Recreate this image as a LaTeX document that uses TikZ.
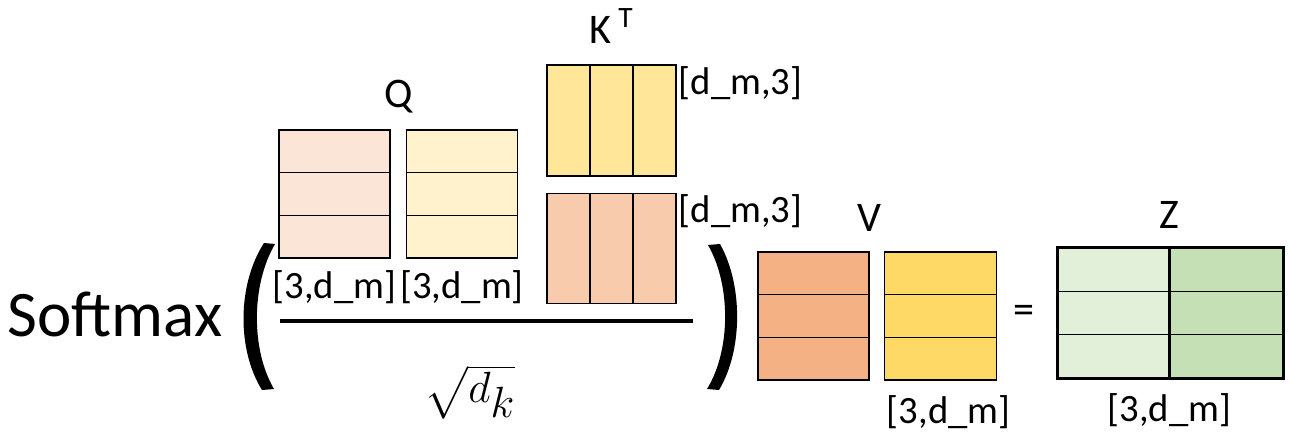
\documentclass[tikz,border=0pt]{standalone}
\usepackage{amsmath}
\usepackage{fontspec}
\setmainfont{Carlito}
\usetikzlibrary{positioning, calc}
\definecolor{qpeach}{HTML}{FBE5D6}
\definecolor{qyellow}{HTML}{FFF2CC}
\definecolor{ktyellow}{HTML}{FFE699}
\definecolor{ktpeach}{HTML}{F8CBAD}
\definecolor{vorange}{HTML}{F4B183}
\definecolor{vyellow}{HTML}{FFD966}
\definecolor{zlight}{HTML}{E2F0D9}
\definecolor{zgreen}{HTML}{C5E0B4}

\begin{document}
\begin{tikzpicture}[
		x=0.02cm, y=-0.02cm,
		node distance=0.3cm and 0.3cm,
		mat/.style={rectangle, draw, line width=0.9pt, inner sep=0pt,
			minimum width=2.22cm, minimum height=2.56cm},
		rows/.style={path picture={
				\foreach \f in {1,2}
				\draw[line width=0.9pt]
				($(path picture bounding box.north west)!\f/3!(path picture bounding box.south west)$) --
				($(path picture bounding box.north east)!\f/3!(path picture bounding box.south east)$);
		}},
		cols/.style={path picture={
				\foreach \f in {1,2}
				\draw[line width=0.9pt]
				($(path picture bounding box.north west)!\f/3!(path picture bounding box.north east)$) --
				($(path picture bounding box.south west)!\f/3!(path picture bounding box.south east)$);
		}},
		mlabel/.style={font=\fontsize{24}{28}\selectfont},
		dimlabel/.style={font=\fontsize{22}{24}\selectfont, inner sep=1pt},
		]
		\useasboundingbox (0,0) rectangle (1290,438);
		
		% Softmax and the big brackets
		\node[font=\fontsize{37}{40}\selectfont] (softmax) at (115,314) {Softmax};
		\fill (264,243) .. controls (237,285) and (237,350) .. (262,390)
		-- (274,389) .. controls (251,350) and (251,285) .. (275,244) -- cycle;
		\fill (720,244) .. controls (743,285) and (743,350) .. (719,390)
		-- (707,389) .. controls (731,350) and (731,285) .. (708,245) -- cycle;
		
		% Q and K (numerator, left)
		\node[mat, rows, fill=qpeach] (q1) at (334.5,194) {};
		\node[mat, rows, fill=qyellow, right=0.3cm of q1] (q2) {};
		\node[mlabel] (qlab) at ($(q1.north)!0.5!(q2.north)+(0,-33)$) {Q};
		\node[dimlabel, below=0.2cm of q1] (q1dim) {[3,d\_m]};
		\node[dimlabel, below=0.2cm of q2] (q2dim) {[3,d\_m]};
		
		% K transposed
		\node[mat, cols, fill=ktyellow, minimum width=2.58cm, minimum height=2.22cm] (kt) at (611.5,120.5) {};
		\node[mat, cols, fill=ktpeach, minimum width=2.58cm, minimum height=2.2cm, below=0.32cm of kt] (kt2) {};
		\node[mlabel, above=0.3cm of kt] (ktlab) {K\,\textsuperscript{T}};
		\node[dimlabel, anchor=north west] (ktdim) at (kt.north east) {[d\_m,3]};
		\node[dimlabel, anchor=north west] (kt2dim) at (kt2.north east) {[d\_m,3]};
		
		% fraction line and sqrt(d_k)
		\coordinate (fl) at (280,321);
		\coordinate (fr) at (693,321);
		\draw[line width=1.8pt] (fl) -- (fr);
		\node[font=\fontsize{33}{38}\selectfont] (sqrtdk) at (470,392) {$\sqrt{d_k}$};
		
		% V
		\node[mat, rows, fill=vorange] (v1) at (813.5,316) {};
		\node[mat, rows, fill=vyellow, minimum width=2.24cm, right=0.28cm of v1] (v2) {};
		\node[mlabel, above=0.28cm of v1.north east] (vlab) {V};
		\node[dimlabel, below=0.25cm of v2, xshift=0.16cm] (v2dim) {[3,d\_m]};
		
		\node[mlabel] (eq) at (1024,314) {=};
		
		% Z
		\node[mat, rows, fill=zlight, minimum width=2.2cm, minimum height=2.6cm] (zl) at (1113.5,313) {};
		\node[mat, rows, fill=zgreen, minimum width=2.26cm, minimum height=2.6cm, anchor=west] (zr) at (zl.east) {};
		\draw[line width=1.8pt] (zl.north west) rectangle (zr.south east);
		\node[mlabel, above=0.25cm of zl.north east] (zlab) {Z};
		\node[dimlabel, below=0.25cm of zl.south east] (zdim) {[3,d\_m]};
	\end{tikzpicture}
\end{document}
